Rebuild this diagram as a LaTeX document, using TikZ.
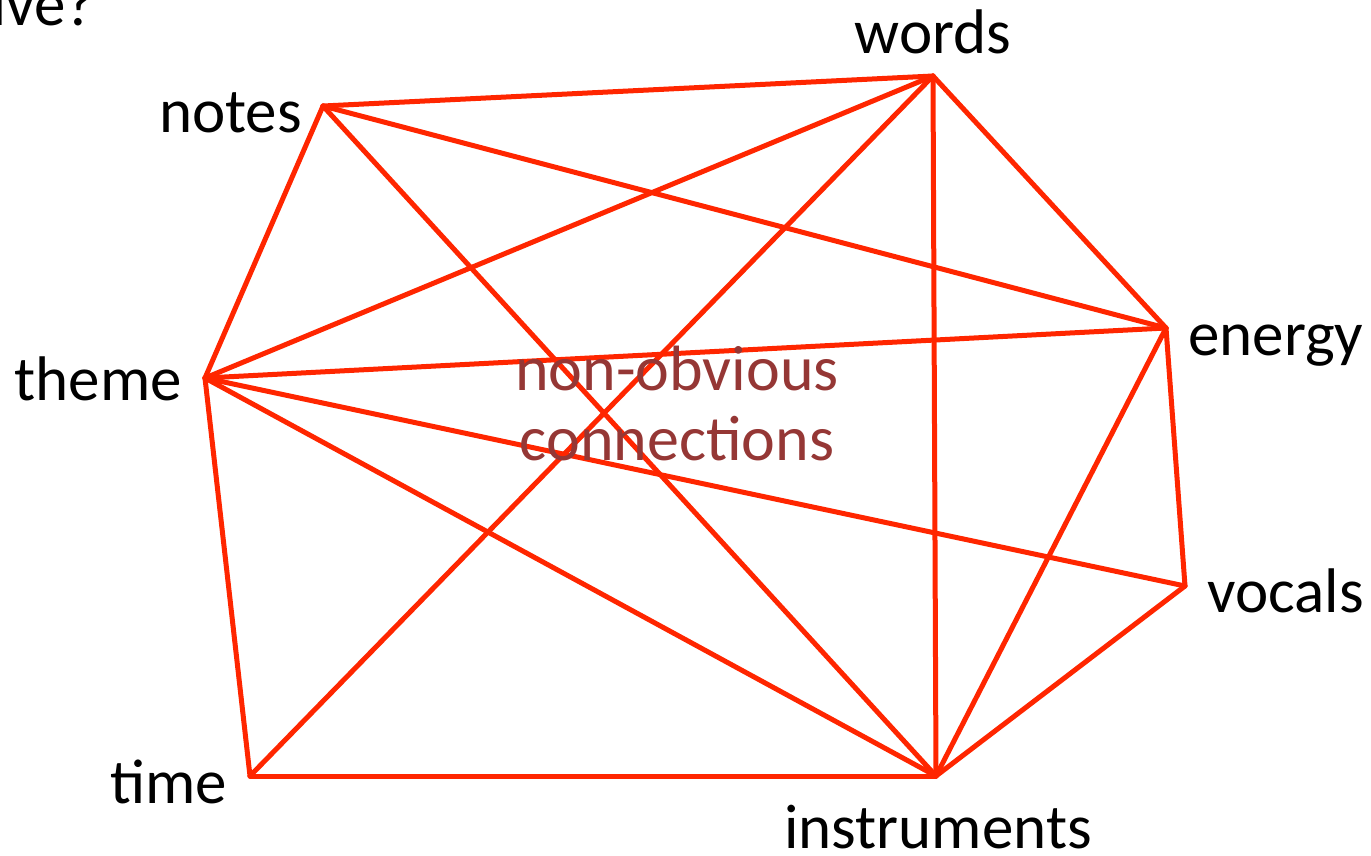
\documentclass[tikz,border=0pt]{standalone}
\usepackage{fontspec}
\setmainfont{Carlito}
\definecolor{edgered}{RGB}{255,38,0}
\definecolor{brownish}{RGB}{149,55,53}
\begin{document}
\begin{tikzpicture}[x=1pt,y=-1pt,
  edge/.style={draw=edgered,line width=5pt,line cap=round,line join=round},
  lbl/.style={inner sep=0pt,font=\fontsize{63}{70}\selectfont,text=black}]
\clip (0,0) rectangle (1371,855);
\useasboundingbox (0,0) rectangle (1371,855);
\coordinate (notes) at (323,106);
\coordinate (words) at (933,76);
\coordinate (energy) at (1166,328);
\coordinate (vocals) at (1185,586);
\coordinate (instr) at (936,776);
\coordinate (time) at (250,776);
\coordinate (theme) at (205,378);
\draw[edge] (notes) -- (words);
\draw[edge] (notes) -- (energy);
\draw[edge] (notes) -- (instr);
\draw[edge] (notes) -- (theme);
\draw[edge] (words) -- (theme);
\draw[edge] (words) -- (time);
\draw[edge] (words) -- (instr);
\draw[edge] (words) -- (energy);
\draw[edge] (theme) -- (energy);
\draw[edge] (theme) -- (vocals);
\draw[edge] (theme) -- (instr);
\draw[edge] (theme) -- (time);
\draw[edge] (energy) -- (vocals);
\draw[edge] (energy) -- (instr);
\draw[edge] (vocals) -- (instr);
\draw[edge] (time) -- (instr);
\node[lbl,anchor=base] (lwords) at (933,53) {words};
\node[lbl,anchor=base east] (lnotes) at (302,132) {notes};
\node[lbl,anchor=base west] (lenergy) at (1188,355) {energy};
\node[lbl,anchor=base east] (ltheme) at (182,400) {theme};
\node[lbl,anchor=base west] (lvocals) at (1207,612) {vocals};
\node[lbl,anchor=base east] (ltime) at (227,803) {time};
\node[lbl,anchor=base] (linstr) at (938,848) {instruments};
\node[lbl,anchor=base east] (ltop) at (95,25) {tive?};
\node[inner sep=0pt,font=\fontsize{64}{70}\selectfont,text=brownish,align=center] (center) at (677,404) {non-obvious\\connections};
\end{tikzpicture}
\end{document}
